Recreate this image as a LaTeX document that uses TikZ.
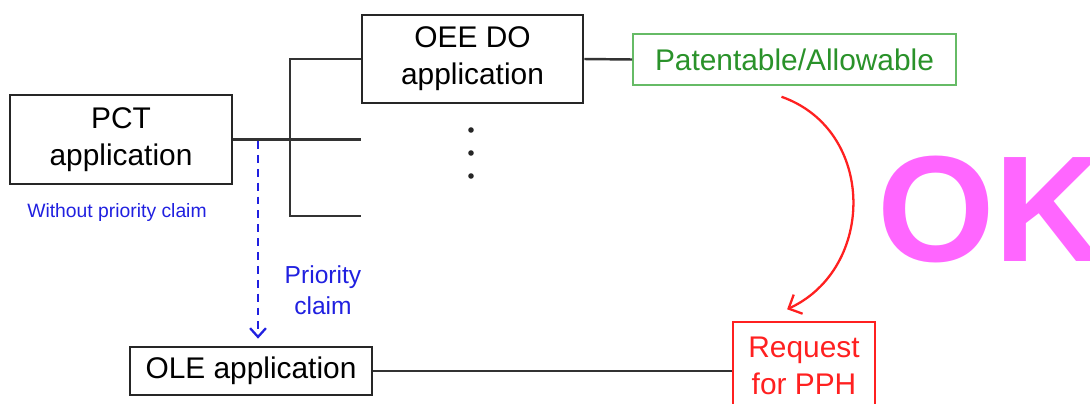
\documentclass[tikz,border=0pt]{standalone}
\usepackage{fontspec}
\setmainfont{Liberation Sans}
\usepackage{tikz}
\usetikzlibrary{arrows.meta}
\usetikzlibrary{positioning}

\definecolor{okgreen}{HTML}{2A922A}
\definecolor{okgreenline}{HTML}{66BB66}
\definecolor{claimblue}{HTML}{2020E0}
\definecolor{pphred}{HTML}{FF2020}
\definecolor{okpink}{HTML}{FF66FF}

\begin{document}
\begin{tikzpicture}[x=0.02cm, y=-0.02cm,
    link/.style={line width=1.4pt, black!80},
    appbox/.style={draw=black!85, line width=1.5pt, align=center, inner sep=0pt,
      font=\fontsize{17}{21}\selectfont},
    okbox/.style={draw=okgreenline, line width=1pt, text=okgreen, inner sep=0pt,
      minimum width=6.46cm, minimum height=1.02cm, font=\fontsize{17}{21}\selectfont},
    pphbox/.style={draw=pphred, line width=0.9pt, text=pphred, align=center, inner sep=0pt,
      minimum width=2.84cm, minimum height=1.74cm, font=\fontsize{17}{21}\selectfont},
    claim/.style={claimblue, line width=1.3pt, dash pattern=on 4.5pt off 3.4pt,
      -{Straight Barb[length=5pt, width=9pt]}},
    bluetext/.style={text=claimblue, align=center, inner sep=0pt}]
    \useasboundingbox (0,0) rectangle (1090,403);
    \clip (0,0) rectangle (1090,403);

    % applications
    \node[appbox, minimum width=4.44cm, minimum height=1.78cm] (pct) at (121,139.5) {PCT\\application};
    \node[appbox, minimum width=4.42cm, minimum height=1.76cm] (oee) at (472.5,59) {OEE DO\\application};
    \node[appbox, minimum width=4.84cm, minimum height=0.96cm] (ole) at (251,371) {OLE application};
    \node[okbox] (pat) at (794.5,59.5) {Patentable/Allowable};
    \node[pphbox] (req) at (804,365.5) {Request\\for PPH};

    % branches to the designated offices
    \coordinate (trunk) at (290,216);
    \draw[link] (pct.east) -- (pct.east -| oee.west);
    \draw[link] (oee.west) -| (trunk) -- (trunk -| oee.west);
    \foreach \y in {130,153,176}
      \fill[black!85] (471,\y) circle (2.8);
    \draw[link] (oee.east) -- (pat.west);
    \draw[link] (ole.east) -- (ole.east -| req.west);

    % priority claim
    \coordinate (claimtop) at (258,141);
    \draw[claim] (claimtop) -- ([yshift=4pt]claimtop |- ole.north);
    \node[bluetext, font=\fontsize{11}{13}\selectfont] (nopri) at (117,212) {Without priority claim};
    \node[bluetext, font=\fontsize{14}{17.5}\selectfont] (pri) at (323,290) {Priority\\claim};

    % OK
    \draw[pphred, line width=1.3pt, -{Straight Barb[length=6pt, width=12pt]}]
      ([xshift=-7.4pt,yshift=-6.2pt]pat.south) .. controls (876,130) and (876,268) .. ([xshift=-9.6pt,yshift=6.8pt]req.north);
    \node[text=okpink, anchor=west, inner sep=0pt, font=\fontsize{86}{90}\bfseries] (ok) at (877,209) {OK};
  \end{tikzpicture}
\end{document}
